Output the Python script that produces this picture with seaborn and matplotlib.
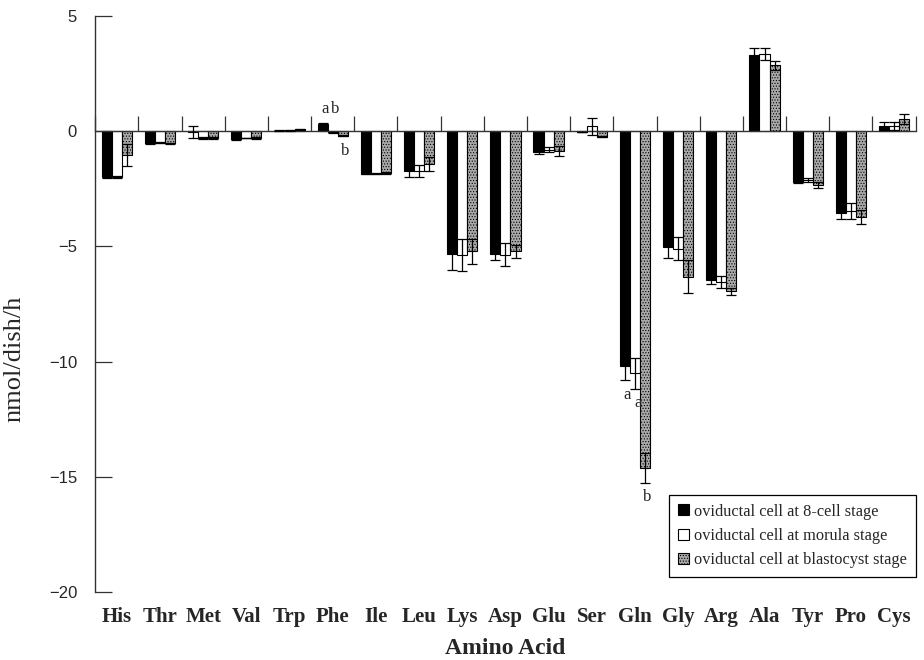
import numpy as np
import pandas as pd
import seaborn as sns
import matplotlib.pyplot as plt
from matplotlib.patches import Patch

# Amino acid turnover (mean and SD, nmol/dish/h)
amino_acids = ["His", "Thr", "Met", "Val", "Trp", "Phe", "Ile", "Leu", "Lys", "Asp",
               "Glu", "Ser", "Gln", "Gly", "Arg", "Ala", "Tyr", "Pro", "Cys"]
stages = ["oviductal cell at 8-cell stage",
          "oviductal cell at morula stage",
          "oviductal cell at blastocyst stage"]

cell8_mean = [-2.0, -0.52, -0.03, -0.35, 0.02, 0.3, -1.85, -1.75, -5.33, -5.33,
              -0.91, -0.02, -10.2, -5.02, -6.48, 3.3, -2.23, -3.55, 0.23]
cell8_sd = [0.05, 0.02, 0.25, 0.03, 0.01, 0.07, 0.03, 0.26, 0.7, 0.27,
            0.1, 0.0, 0.6, 0.47, 0.15, 0.29, 0.03, 0.25, 0.18]
morula_mean = [-2.0, -0.5, -0.3, -0.3, 0.03, -0.06, -1.85, -1.75, -5.37, -5.37,
               -0.81, 0.2, -10.5, -5.1, -6.53, 3.35, -2.12, -3.45, 0.23]
morula_sd = [0.05, 0.02, 0.03, 0.02, 0.01, 0.01, 0.03, 0.26, 0.7, 0.5,
             0.1, 0.37, 0.67, 0.5, 0.26, 0.25, 0.1, 0.35, 0.18]
blast_mean = [-1.03, -0.52, -0.3, -0.3, 0.07, -0.2, -1.82, -1.42, -5.22, -5.22,
              -0.86, -0.25, -14.6, -6.31, -6.96, 2.85, -2.33, -3.72, 0.52]
blast_sd = [0.48, 0.02, 0.03, 0.03, 0.01, 0.03, 0.03, 0.31, 0.55, 0.28,
            0.2, 0.02, 0.65, 0.72, 0.15, 0.19, 0.13, 0.3, 0.23]

# significance letters: (amino acid, stage index, letter, placement)
sig_letters = [("Phe", 0, "a", "above"), ("Phe", 1, "b", "above"), ("Phe", 2, "b", "below"),
               ("Gln", 0, "a", "below"), ("Gln", 1, "a", "below"), ("Gln", 2, "b", "below")]

df = pd.DataFrame({
    "Amino Acid": amino_acids * 3,
    "Stage": np.repeat(stages, len(amino_acids)),
    "nmol/dish/h": cell8_mean + morula_mean + blast_mean,
})

sns.set_style("white")
plt.rcParams["font.family"] = ["Liberation Serif", "DejaVu Serif"]
plt.rcParams["hatch.linewidth"] = 0.5

colors = ["black", "white", "#a9a9a9"]

fig = plt.figure(figsize=(9.24, 6.6), dpi=100)
ax = fig.add_axes([0.103, 0.103, 0.888, 0.873])

sns.barplot(data=df, x="Amino Acid", y="nmol/dish/h", hue="Stage", order=amino_acids,
            hue_order=stages, palette=colors, width=0.7, edgecolor="black",
            linewidth=0.8, errorbar=None, ax=ax)

for bar in ax.containers[2]:
    bar.set_hatch("......")

# error bars at the bar tips
sds = [cell8_sd, morula_sd, blast_sd]
for cont, sd in zip(ax.containers, sds):
    xs = [p.get_x() + p.get_width() / 2 for p in cont]
    ys = list(cont.datavalues)
    ax.errorbar(xs, ys, yerr=sd, fmt="none", ecolor="black", elinewidth=0.9,
                capsize=3.6, capthick=0.9, zorder=3)

# significance letters
for aa, si, letter, where in sig_letters:
    i = amino_acids.index(aa)
    p = ax.containers[si][i]
    x = p.get_x() + p.get_width() / 2 + 0.06
    if where == "above":
        tops = [max(ax.containers[k].datavalues[i] + sds[k][i], 0) for k in range(3)]
        ax.annotate(letter, (x, max(tops)), xytext=(0, 4), textcoords="offset points",
                    ha="center", va="bottom", fontsize=12)
    else:
        y = ax.containers[si].datavalues[i] - sds[si][i]
        ax.annotate(letter, (x, y), xytext=(0, -5), textcoords="offset points",
                    ha="center", va="top", fontsize=12)

if ax.legend_:
    ax.legend_.remove()
handles = [Patch(facecolor=c, edgecolor="black", linewidth=0.8) for c in colors]
handles[2].set_hatch("......")
leg = ax.legend(handles, stages, loc="lower right", bbox_to_anchor=(1.0, 0.026),
                frameon=True, fancybox=False, edgecolor="black", framealpha=1,
                fontsize=11.8, handlelength=0.65, handleheight=0.65, handletextpad=0.3,
                borderpad=0.55, labelspacing=0.5, borderaxespad=0)
leg.get_frame().set_linewidth(0.9)

# axis at y = 0 with upward ticks at group boundaries
ax.set_xlim(-0.5, 18.5)
ax.set_ylim(-20, 5)
ax.spines["top"].set_visible(False)
ax.spines["right"].set_visible(False)
ax.spines["bottom"].set_position(("data", 0))
for s in ["left", "bottom"]:
    ax.spines[s].set_color("#333333")
    ax.spines[s].set_linewidth(1.0)
ax.set_xticks(np.arange(-0.5, 19, 1))
ax.set_xticklabels([])
ax.set_xlabel("")
ax.tick_params(axis="x", bottom=True, direction="in", length=11, width=0.9, color="#333333")

ax.set_yticks([5, 0, -5, -10, -15, -20])
ax.tick_params(axis="y", left=True, direction="in", length=12, width=0.9, color="#333333",
               pad=13, labelsize=12)
for t in ax.get_yticklabels():
    t.set_fontfamily("Liberation Sans")

ax.set_ylabel("nmol/dish/h", fontsize=19)
ax.yaxis.set_label_coords(-0.085, 0.405)

# category labels along the bottom of the plot
sec = ax.secondary_xaxis("bottom")
sec.set_xticks(range(len(amino_acids)), labels=amino_acids)
sec.tick_params(length=0, pad=11, labelsize=15)
for t in sec.get_xticklabels():
    t.set_fontweight("bold")
sec.spines["bottom"].set_visible(False)
sec.set_xlabel("Amino Acid", fontsize=17, fontweight="bold", labelpad=8)

fig.savefig("out.png", dpi=100)
